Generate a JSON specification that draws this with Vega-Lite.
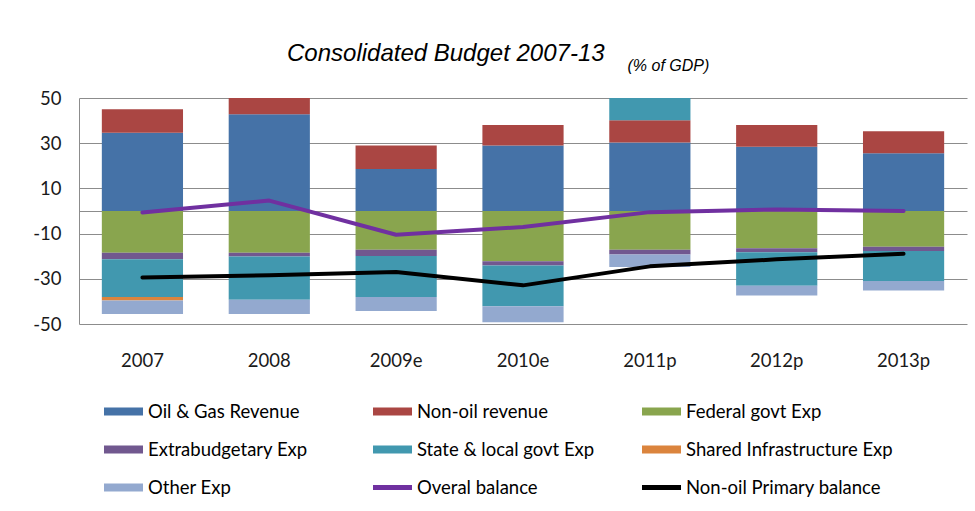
{
  "$schema": "https://vega.github.io/schema/vega-lite/v6.json",
  "width": 888,
  "height": 226,
  "autosize": {"type": "none"},
  "padding": {"left": 79, "top": 98, "right": 8, "bottom": 187},
  "background": "#ffffff",
  "config": {
    "view": {"stroke": null},
    "font": "Lato"
  },
  "title": {
    "text": "Consolidated Budget 2007-13",
    "anchor": "start",
    "frame": "group",
    "dx": 208,
    "dy": 39.5,
    "offset": 31,
    "font": "Liberation Sans",
    "fontSize": 24,
    "fontStyle": "italic",
    "fontWeight": "normal",
    "color": "#000000"
  },
  "datasets": {
    "bars": [
      {"year": "2007", "series": "Oil & Gas Revenue", "idx": 1, "value": 34.6},
      {"year": "2007", "series": "Non-oil revenue", "idx": 2, "value": 10.4},
      {"year": "2007", "series": "Federal govt Exp", "idx": 3, "value": -18.5},
      {"year": "2007", "series": "Extrabudgetary Exp", "idx": 4, "value": -2.8},
      {"year": "2007", "series": "State & local govt Exp", "idx": 5, "value": -16.7},
      {"year": "2007", "series": "Shared Infrastructure Exp", "idx": 6, "value": -1.6},
      {"year": "2007", "series": "Other Exp", "idx": 7, "value": -6.0},
      {"year": "2008", "series": "Oil & Gas Revenue", "idx": 1, "value": 42.8},
      {"year": "2008", "series": "Non-oil revenue", "idx": 2, "value": 9.0},
      {"year": "2008", "series": "Federal govt Exp", "idx": 3, "value": -18.5},
      {"year": "2008", "series": "Extrabudgetary Exp", "idx": 4, "value": -1.6},
      {"year": "2008", "series": "State & local govt Exp", "idx": 5, "value": -19.2},
      {"year": "2008", "series": "Other Exp", "idx": 7, "value": -6.3},
      {"year": "2009e", "series": "Oil & Gas Revenue", "idx": 1, "value": 18.6},
      {"year": "2009e", "series": "Non-oil revenue", "idx": 2, "value": 10.4},
      {"year": "2009e", "series": "Federal govt Exp", "idx": 3, "value": -17.1},
      {"year": "2009e", "series": "Extrabudgetary Exp", "idx": 4, "value": -2.8},
      {"year": "2009e", "series": "State & local govt Exp", "idx": 5, "value": -18.1},
      {"year": "2009e", "series": "Other Exp", "idx": 7, "value": -6.2},
      {"year": "2010e", "series": "Oil & Gas Revenue", "idx": 1, "value": 29.0},
      {"year": "2010e", "series": "Non-oil revenue", "idx": 2, "value": 9.1},
      {"year": "2010e", "series": "Federal govt Exp", "idx": 3, "value": -22.2},
      {"year": "2010e", "series": "Extrabudgetary Exp", "idx": 4, "value": -1.9},
      {"year": "2010e", "series": "State & local govt Exp", "idx": 5, "value": -18.1},
      {"year": "2010e", "series": "Other Exp", "idx": 7, "value": -7.0},
      {"year": "2011p", "series": "Oil & Gas Revenue", "idx": 1, "value": 30.3},
      {"year": "2011p", "series": "Non-oil revenue", "idx": 2, "value": 9.9},
      {"year": "2011p", "series": "Federal govt Exp", "idx": 3, "value": -17.1},
      {"year": "2011p", "series": "Extrabudgetary Exp", "idx": 4, "value": -2.1},
      {"year": "2011p", "series": "State & local govt Exp", "idx": 5, "value": 12.0},
      {"year": "2011p", "series": "Other Exp", "idx": 7, "value": -5.6},
      {"year": "2012p", "series": "Oil & Gas Revenue", "idx": 1, "value": 28.4},
      {"year": "2012p", "series": "Non-oil revenue", "idx": 2, "value": 9.7},
      {"year": "2012p", "series": "Federal govt Exp", "idx": 3, "value": -16.5},
      {"year": "2012p", "series": "Extrabudgetary Exp", "idx": 4, "value": -1.8},
      {"year": "2012p", "series": "State & local govt Exp", "idx": 5, "value": -14.8},
      {"year": "2012p", "series": "Other Exp", "idx": 7, "value": -4.3},
      {"year": "2013p", "series": "Oil & Gas Revenue", "idx": 1, "value": 25.6},
      {"year": "2013p", "series": "Non-oil revenue", "idx": 2, "value": 9.7},
      {"year": "2013p", "series": "Federal govt Exp", "idx": 3, "value": -15.8},
      {"year": "2013p", "series": "Extrabudgetary Exp", "idx": 4, "value": -1.9},
      {"year": "2013p", "series": "State & local govt Exp", "idx": 5, "value": -13.3},
      {"year": "2013p", "series": "Other Exp", "idx": 7, "value": -4.2}
    ],
    "lines": [
      {"year": "2007", "series": "Overal balance", "value": -0.7},
      {"year": "2008", "series": "Overal balance", "value": 4.6},
      {"year": "2009e", "series": "Overal balance", "value": -10.5},
      {"year": "2010e", "series": "Overal balance", "value": -7.1},
      {"year": "2011p", "series": "Overal balance", "value": -0.5},
      {"year": "2012p", "series": "Overal balance", "value": 0.7},
      {"year": "2013p", "series": "Overal balance", "value": 0.0},
      {"year": "2007", "series": "Non-oil Primary balance", "value": -29.4},
      {"year": "2008", "series": "Non-oil Primary balance", "value": -28.4},
      {"year": "2009e", "series": "Non-oil Primary balance", "value": -27.0},
      {"year": "2010e", "series": "Non-oil Primary balance", "value": -32.9},
      {"year": "2011p", "series": "Non-oil Primary balance", "value": -24.5},
      {"year": "2012p", "series": "Non-oil Primary balance", "value": -21.4},
      {"year": "2013p", "series": "Non-oil Primary balance", "value": -18.9}
    ]
  },
  "encoding": {
    "x": {
      "field": "year",
      "type": "nominal",
      "sort": ["2007", "2008", "2009e", "2010e", "2011p", "2012p", "2013p"],
      "scale": {"paddingInner": 0.36, "paddingOuter": 0.18},
      "axis": {
        "title": null,
        "domain": false,
        "ticks": false,
        "labelAngle": 0,
        "labelFont": "Lato",
        "labelFontSize": 18.5,
        "labelColor": "#1a1a1a",
        "labelPadding": 27
      }
    }
  },
  "layer": [
    {
      "data": {"name": "bars"},
      "mark": {"type": "bar", "clip": true},
      "encoding": {
        "y": {
          "field": "value",
          "type": "quantitative",
          "stack": "zero",
          "scale": {"domain": [-50, 50], "nice": false, "zero": false},
          "axis": {
            "title": "(% of GDP)",
            "titleAngle": 0,
            "titleX": 548,
            "titleY": -28,
            "titleAlign": "left",
            "titleBaseline": "alphabetic",
            "titleFont": "Liberation Sans",
            "titleFontSize": 16,
            "titleFontStyle": "italic",
            "titleFontWeight": "normal",
            "titleColor": "#000000",
            "values": [-50, -30, -10, 0, 10, 30, 50],
            "tickCount": 20,
            "labelExpr": "datum.value == 0 ? '' : (datum.value < 0 ? '-' + abs(datum.value) : '' + datum.value)",
            "labelOverlap": false,
            "labelBound": false,
            "labelFlush": false,
            "grid": true,
            "gridColor": "#8c8c8c",
            "gridWidth": 1,
            "domain": true,
            "domainColor": "#8c8c8c",
            "domainWidth": 1,
            "ticks": false,
            "labelFont": "Lato",
            "labelFontSize": 18.5,
            "labelColor": "#1a1a1a",
            "labelPadding": 18
          }
        },
        "order": {"field": "idx", "type": "quantitative"},
        "color": {
          "field": "series",
          "type": "nominal",
          "scale": {
            "domain": ["Oil & Gas Revenue", "Non-oil revenue", "Federal govt Exp", "Extrabudgetary Exp", "State & local govt Exp", "Shared Infrastructure Exp", "Other Exp", "Overal balance", "Non-oil Primary balance"],
            "range": ["#4572A7", "#AA4643", "#89A54E", "#71588F", "#4198AF", "#DB843D", "#93A9CF", "#7030A0", "#000000"]
          },
          "legend": {
            "title": null,
            "orient": "none",
            "direction": "horizontal",
            "legendX": 25,
            "legendY": 294,
            "columns": 3,
            "padding": 0,
            "gridAlign": "all",
            "symbolSize": 1521,
            "symbolType": "square",
            "labelFont": "Lato",
            "labelFontSize": 18.5,
            "labelColor": "#000000",
            "labelOffset": 5,
            "labelLimit": 400,
            "rowPadding": 9,
            "columnPadding": 18,
            "encode": {
              "symbols": {
                "update": {
                  "shape": {"signal": "indexof(['Overal balance','Non-oil Primary balance'], datum.value) >= 0 ? 'M-1,-0.13H1V0.13H-1Z' : 'M-1,-0.205H1V0.205H-1Z'"},
                  "fill": {"scale": "color", "field": "value"},
                  "strokeWidth": {"value": 0},
                  "opacity": {"value": 1}
                }
              }
            }
          }
        }
      }
    },
    {
      "data": {"name": "lines"},
      "mark": {"type": "line", "strokeWidth": 4, "strokeCap": "round", "strokeJoin": "round"},
      "encoding": {
        "y": {"field": "value", "type": "quantitative"},
        "color": {"field": "series", "type": "nominal"}
      }
    }
  ]
}
